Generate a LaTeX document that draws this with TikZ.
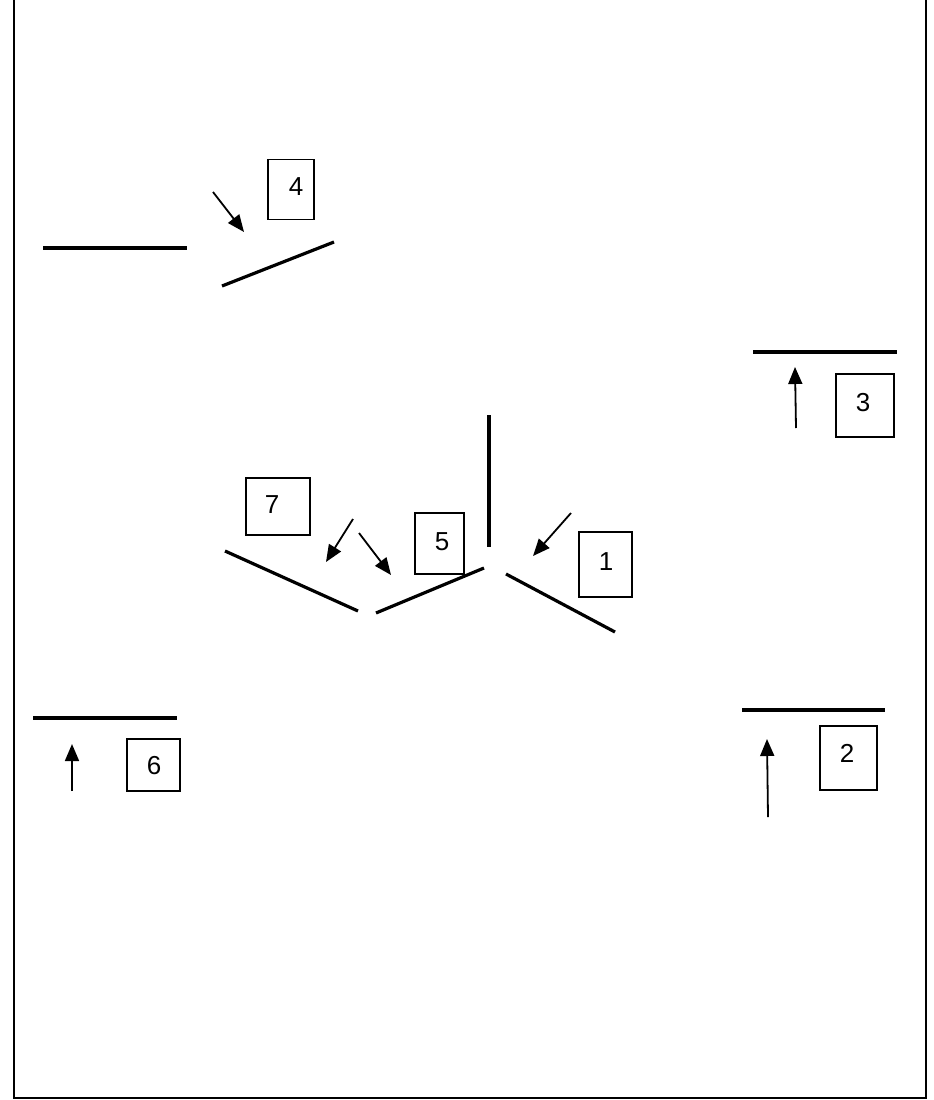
\documentclass[tikz,border=0pt]{standalone}
\usepackage{fontspec}
\setmainfont{Liberation Sans}
\usetikzlibrary{arrows.meta}
\begin{document}
\begin{tikzpicture}[x=1pt,y=-1pt,
  wall/.style={line width=3.2pt},
  ptr/.style={line width=1.8pt,-{Triangle[length=17pt,width=14pt]}},
  numbox/.style={draw,line width=1.3pt,inner sep=0pt},
  num/.style={font=\fontsize{26}{30}\selectfont,inner sep=0pt}]
\useasboundingbox (0,0) rectangle (934,1100);
% frame
\draw[line width=1.8pt] (14,0) -- (14,1098) -- (926,1098) -- (926,0);
% walls
\draw[wall] (43,248) -- (187,248);
\draw[wall] (222,286) -- (334,242);
\draw[wall] (753,352) -- (897,352);
\draw[wall] (489,415) -- (489,547);
\draw[wall] (225,551) -- (358,611);
\draw[wall] (376,613) -- (484,568);
\draw[wall] (506,574) -- (615,632);
\draw[wall] (33,718) -- (177,718);
\draw[wall] (742,710) -- (885,710);
% boxes
\node[numbox,minimum width=46pt,minimum height=60pt] (b4) at (291,189.5) {};
\node[num] (t4) at (296,187) {4};
\node[numbox,minimum width=58pt,minimum height=63pt] (b3) at (865,405.5) {};
\node[num] (t3) at (863,403) {3};
\node[numbox,minimum width=64pt,minimum height=57pt] (b7) at (278,506.5) {};
\node[num] (t7) at (272,505) {7};
\node[numbox,minimum width=49pt,minimum height=61pt] (b5) at (439.5,543.5) {};
\node[num] (t5) at (442,542) {5};
\node[numbox,minimum width=53pt,minimum height=65pt] (b1) at (605.5,564.5) {};
\node[num] (t1) at (606,562) {1};
\node[numbox,minimum width=53pt,minimum height=52pt] (b6) at (153.5,765) {};
\node[num] (t6) at (154,766) {6};
\node[numbox,minimum width=57pt,minimum height=64pt] (b2) at (848.5,758) {};
\node[num] (t2) at (847,753) {2};
% arrows
\coordinate (a4s) at (213,192); \coordinate (a4e) at (244,232);
\coordinate (a3s) at (796,428); \coordinate (a3e) at (795,367);
\coordinate (a7s) at (353,519); \coordinate (a7e) at (326,562);
\coordinate (a5s) at (359,533); \coordinate (a5e) at (391,575);
\coordinate (a1s) at (571,513); \coordinate (a1e) at (533,556);
\coordinate (a6s) at (72,791);  \coordinate (a6e) at (72,744);
\coordinate (a2s) at (768,817); \coordinate (a2e) at (767,739);
\draw[ptr] (a4s) -- (a4e);
\draw[ptr] (a3s) -- (a3e);
\draw[ptr] (a7s) -- (a7e);
\draw[ptr] (a5s) -- (a5e);
\draw[ptr] (a1s) -- (a1e);
\draw[ptr] (a6s) -- (a6e);
\draw[ptr] (a2s) -- (a2e);
\end{tikzpicture}
\end{document}
